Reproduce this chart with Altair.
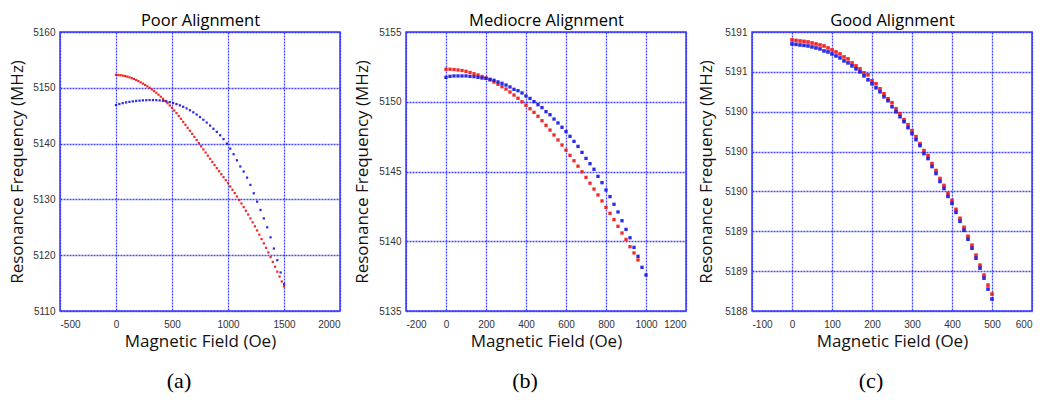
import altair as alt
import pandas as pd

# ---------------- Panel (a) Poor Alignment ----------------
a_red_field = list(range(0, 1501, 20))
a_red_freq = [
    5152.30, 5152.29, 5152.25, 5152.19, 5152.11, 5152.00,
    5151.88, 5151.74, 5151.58, 5151.40, 5151.20,
    5150.98, 5150.75, 5150.51, 5150.26, 5150.00,
    5149.71, 5149.41, 5149.10, 5148.76, 5148.40,
    5148.03, 5147.64, 5147.24, 5146.83, 5146.40,
    5145.94, 5145.46, 5144.96, 5144.44, 5143.90,
    5143.37, 5142.83, 5142.29, 5141.75, 5141.20,
    5140.64, 5140.08, 5139.52, 5138.96, 5138.40,
    5137.84, 5137.28, 5136.72, 5136.16, 5135.60,
    5135.06, 5134.52, 5133.98, 5133.44, 5132.90,
    5132.32, 5131.73, 5131.13, 5130.52, 5129.90,
    5129.27, 5128.62, 5127.96, 5127.29, 5126.60,
    5125.89, 5125.17, 5124.44, 5123.68, 5122.90,
    5122.12, 5121.32, 5120.50, 5119.66, 5118.80,
    5117.93, 5117.05, 5116.17, 5115.29, 5114.40,
]
a_blue_field = list(range(0, 1501, 30))
a_blue_freq = [
    5146.90, 5147.10, 5147.25, 5147.38, 5147.48, 5147.57, 5147.64, 5147.70,
    5147.75, 5147.78, 5147.80, 5147.80, 5147.78, 5147.74, 5147.67, 5147.57,
    5147.44, 5147.28, 5147.09, 5146.86, 5146.60, 5146.31, 5145.98, 5145.61,
    5145.20, 5144.76, 5144.28, 5143.77, 5143.23, 5142.66, 5142.10,
    5141.50, 5140.80, 5140.00, 5139.10, 5138.10, 5137.00, 5135.90, 5135.00,
    5133.90, 5132.60, 5131.10, 5129.60, 5128.10, 5126.60, 5125.00, 5123.20,
    5121.20, 5119.10, 5116.90, 5114.80,
]

# ---------------- Panel (b) Mediocre Alignment ----------------
b_red_field = list(range(0, 961, 20))
b_red_freq = [
    5152.33, 5152.33, 5152.31, 5152.28, 5152.24, 5152.18, 5152.10, 5152.01,
    5151.92, 5151.81, 5151.70, 5151.56, 5151.41, 5151.25, 5151.08, 5150.91,
    5150.70, 5150.48, 5150.25, 5150.00, 5149.75, 5149.50, 5149.24, 5148.96,
    5148.64, 5148.31, 5147.97, 5147.62, 5147.26, 5146.90, 5146.53, 5146.16,
    5145.77, 5145.38, 5144.98, 5144.58, 5144.16, 5143.74, 5143.32, 5142.89,
    5142.43, 5142.00, 5141.55, 5141.07, 5140.59, 5140.13, 5139.61, 5139.16,
    5138.66,
]
b_blue_field = list(range(0, 1001, 20))
b_blue_freq = [
    5151.75, 5151.82, 5151.85, 5151.85, 5151.85, 5151.85, 5151.82, 5151.80,
    5151.75, 5151.70, 5151.68, 5151.61, 5151.54, 5151.42, 5151.32, 5151.20,
    5151.06, 5150.89, 5150.79, 5150.63, 5150.41, 5150.24, 5150.01, 5149.79,
    5149.58, 5149.29, 5149.07, 5148.76, 5148.48, 5148.17, 5147.86, 5147.52,
    5147.16, 5146.80, 5146.37, 5145.94, 5145.56, 5145.16, 5144.65, 5144.20,
    5143.67, 5143.20, 5142.65, 5142.10, 5141.47, 5140.85, 5140.25, 5139.56,
    5138.92, 5138.13, 5137.58,
]

# ---------------- Panel (c) Good Alignment ----------------
c_field = list(range(0, 501, 10))
c_red_freq = [
    5191.020, 5191.016, 5191.010, 5191.006, 5191.000, 5190.990, 5190.980,
    5190.970, 5190.960, 5190.940, 5190.920, 5190.900, 5190.880, 5190.850,
    5190.830, 5190.790, 5190.760, 5190.730, 5190.690, 5190.670, 5190.610,
    5190.580, 5190.530, 5190.480, 5190.430, 5190.390, 5190.330, 5190.280,
    5190.220, 5190.170, 5190.110, 5190.050, 5189.980, 5189.910, 5189.860,
    5189.780, 5189.710, 5189.630, 5189.560, 5189.480, 5189.410, 5189.320,
    5189.230, 5189.140, 5189.050, 5188.960, 5188.860, 5188.760, 5188.660,
    5188.560, 5188.470,
]
c_blue_freq = [
    5190.980, 5190.976, 5190.970, 5190.966, 5190.960, 5190.950, 5190.940,
    5190.930, 5190.910, 5190.900, 5190.880, 5190.860, 5190.840, 5190.810,
    5190.790, 5190.760, 5190.730, 5190.700, 5190.660, 5190.620, 5190.580,
    5190.540, 5190.500, 5190.450, 5190.410, 5190.350, 5190.300, 5190.250,
    5190.200, 5190.140, 5190.080, 5190.020, 5189.960, 5189.880, 5189.830,
    5189.750, 5189.680, 5189.600, 5189.530, 5189.450, 5189.380, 5189.290,
    5189.200, 5189.110, 5189.020, 5188.930, 5188.830, 5188.730, 5188.630,
    5188.520, 5188.420,
]

# axis ticks
a_xticks = [-500, 0, 500, 1000, 1500, 2000]
a_yticks = [5110, 5120, 5130, 5140, 5150, 5160]
b_xticks = [-200, 0, 200, 400, 600, 800, 1000, 1200]
b_yticks = [5135, 5140, 5145, 5150, 5155]
c_xticks = [-100, 0, 100, 200, 300, 400, 500, 600]
c_yticks = [5188.3, 5188.7, 5189.1, 5189.5, 5189.9, 5190.3, 5190.7, 5191.1]

RED = "#f01414"
BLUE = "#1414e6"
GRID = "#3030ff"


def frame(fr, fb, rr, rb):
    d1 = pd.DataFrame({"field": fr, "freq": rr, "series": "red"})
    d2 = pd.DataFrame({"field": fb, "freq": rb, "series": "blue"})
    return pd.concat([d1, d2], ignore_index=True)


def panel(df, xdom, xticks, ydom, yticks, ylabel_expr, title, sub, size, ytitle_pad):
    yenc = alt.Y(
        "freq:Q",
        scale=alt.Scale(domain=ydom, nice=False, zero=False),
        axis=alt.Axis(values=yticks, labelExpr=ylabel_expr, labelPadding=5,
                      title="Resonance Frequency (MHz)", titlePadding=ytitle_pad),
    )
    base = alt.Chart(df)
    pts = base.mark_square(size=size, opacity=0.9).encode(
        x=alt.X(
            "field:Q",
            scale=alt.Scale(domain=xdom, nice=False, zero=False),
            axis=alt.Axis(values=xticks, labelExpr="'' + datum.value",
                          labelPadding=8, title="Magnetic Field (Oe)",
                          orient="bottom"),
        ),
        y=yenc,
        color=alt.Color("series:N",
                        scale=alt.Scale(domain=["red", "blue"], range=[RED, BLUE]),
                        legend=None),
    )
    top = base.mark_square(opacity=0).encode(
        x=alt.X(
            "field:Q",
            scale=alt.Scale(domain=xdom, nice=False, zero=False),
            axis=alt.Axis(orient="top", title=title, labels=False, ticks=False,
                          domain=False, grid=False, titleFontSize=16.5,
                          titleColor="#000", titlePadding=4),
        ),
        y=yenc,
    )
    return (
        alt.layer(pts, top)
        .resolve_axis(x="independent")
        .properties(
            width=280,
            height=279,
            title=alt.Title(sub, orient="bottom", font="Liberation Serif",
                            fontSize=22, fontWeight="normal", color="#000",
                            dx=-21, offset=22),
        )
    )


pa = panel(frame(a_red_field, a_blue_field, a_red_freq, a_blue_freq),
           [-500, 2000], a_xticks, [5110, 5160], a_yticks,
           "'' + datum.value", "Poor Alignment", "(a)", 5, 6)
pb = panel(frame(b_red_field, b_blue_field, b_red_freq, b_blue_freq),
           [-200, 1200], b_xticks, [5135, 5155], b_yticks,
           "'' + datum.value", "Mediocre Alignment", "(b)", 11, 7)
pc = panel(frame(c_field, c_field, c_red_freq, c_blue_freq),
           [-100, 600], c_xticks, [5188.3, 5191.1], c_yticks,
           "format(datum.value, 'd')", "Good Alignment", "(c)", 13, 9)

chart = (
    alt.hconcat(pa, pb, pc, spacing=66, bounds="flush")
    .properties(padding={"left": 8, "top": 11, "right": 5, "bottom": 5})
    .configure_view(stroke="#3c3cff", strokeWidth=1.5)
    .configure_axis(
        labelFont="Liberation Sans",
        labelFontSize=10,
        labelColor="#333333",
        titleFont="Open Sans",
        titleFontSize=17,
        titleFontWeight="normal",
        titleColor="#111111",
        titlePadding=4,
        gridColor=GRID,
        gridDash=[2, 1],
        gridWidth=1.3,
        gridOpacity=0.9,
        ticks=False,
        domain=False,
    )
    .configure_title(font="Open Sans")
)

chart.save("out.html", embed_options={"renderer": "svg", "actions": False})
